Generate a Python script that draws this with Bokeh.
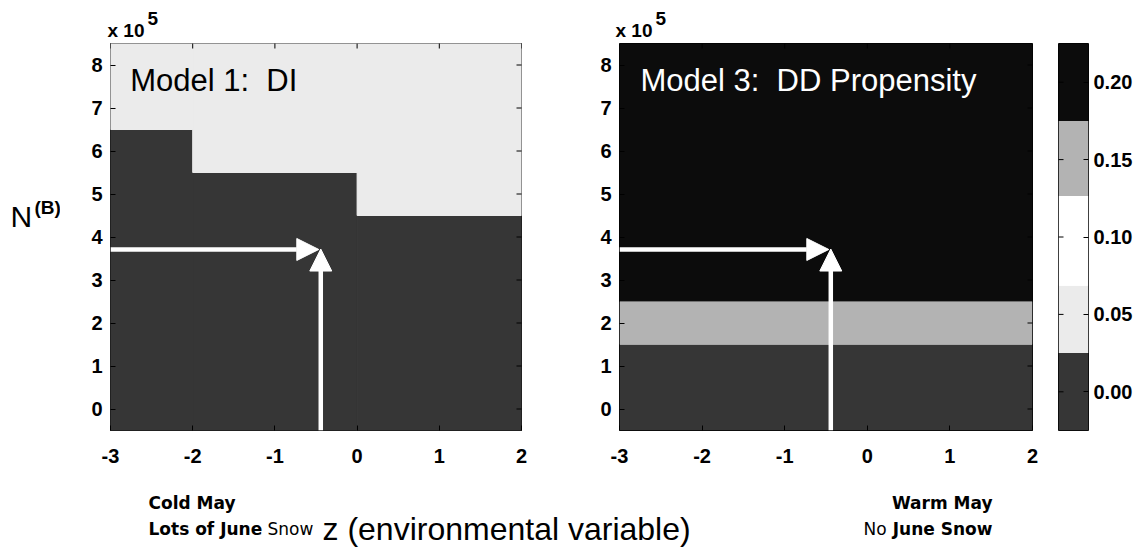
import math
from bokeh.plotting import figure
from bokeh.layouts import row, column
from bokeh.models import (Range1d, FixedTicker, Label, Arrow, NormalHead,
                          CustomJSTickFormatter, NumeralTickFormatter)
from bokeh.embed import file_html
from bokeh.resources import INLINE
from bokeh.core.properties import value

# ---------------- data ----------------
z_ticks = [-3, -2, -1, 0, 1, 2]
n_ticks = [0, 1, 2, 3, 4, 5, 6, 7, 8]          # x 10^5
z_range = [-3, 2]
n_range = [-0.5, 8.5]

# Model 1 (DI): for each z segment, cells below boundary are 0.00, above are 0.05
m1_z_left = [-3, -2, 0]
m1_z_right = [-2, 0, 2]
m1_boundary = [6.5, 5.5, 4.5]
m1_low_value = 0.00
m1_high_value = 0.05

# Model 3 (DD propensity): horizontal bands in N
m3_n_bottom = [-0.5, 1.5, 2.5]
m3_n_top = [1.5, 2.5, 8.5]
m3_values = [0.00, 0.15, 0.20]

# colour bar
cbar_edges = [-0.025, 0.025, 0.0685, 0.1265, 0.175, 0.225]
cbar_colors = ["#363636", "#ebebeb", "#ffffff", "#b3b3b3", "#0c0c0c"]
cbar_ticks = [0.00, 0.05, 0.10, 0.15, 0.20]

# arrows (z, N)
h_arrow_z = [-3, -0.466]
h_arrow_n = 3.71
v_arrow_z = -0.442
v_arrow_n = [-0.5, 3.72]

FONT = "Liberation Sans"
SMALL = value("DejaVu Sans")


def color_for(v):
    for i in range(len(cbar_colors)):
        if cbar_edges[i] <= v < cbar_edges[i + 1]:
            return cbar_colors[i]
    return cbar_colors[-1]


def style_axis(ax, ticks, standoff):
    ax.ticker = FixedTicker(ticks=ticks)
    ax.axis_line_color = None
    ax.major_tick_in = 5
    ax.major_tick_out = 0
    ax.major_tick_line_color = "black"
    ax.minor_tick_line_color = None
    ax.major_label_text_font = FONT
    ax.major_label_text_font_style = "bold"
    ax.major_label_text_font_size = "20px"
    ax.major_label_text_color = "black"
    ax.major_label_standoff = standoff


def strip(width, height, x0, y0):
    s = figure(width=width, height=height, x_range=Range1d(x0, x0 + width),
               y_range=Range1d(y0 + height, y0), x_axis_location=None, y_axis_location=None,
               output_backend="svg", toolbar_location=None, min_border=0)
    s.xgrid.visible = False
    s.ygrid.visible = False
    s.outline_line_color = None
    return s


def panel(width, bl, br):
    p = figure(width=width, height=429, x_range=Range1d(*z_range), y_range=Range1d(*n_range),
               output_backend="svg", toolbar_location=None,
               min_border_left=bl, min_border_right=br, min_border_top=2, min_border_bottom=40)
    p.xgrid.visible = False
    p.ygrid.visible = False
    p.outline_line_color = "black"
    p.outline_line_alpha = 1
    p.outline_line_width = 1
    p.border_fill_color = "white"
    style_axis(p.xaxis[0], z_ticks, 18)
    p.xaxis[0].formatter = CustomJSTickFormatter(code="return tick.toString()")
    style_axis(p.yaxis[0], n_ticks, 8)
    p.yaxis[0].formatter = CustomJSTickFormatter(code="return tick.toString()")
    return p


def mirror_ticks(p):
    # inward tick marks on the top and right frame edges (half of each dash is clipped)
    p.scatter(x=z_ticks, y=[n_range[1]] * len(z_ticks), marker="dash", size=10,
              angle=math.pi / 2, line_color="black", line_width=1)
    p.scatter(x=[z_range[1]] * len(n_ticks), y=n_ticks, marker="dash", size=10,
              line_color="black", line_width=1)


def add_arrows(p):
    p.add_layout(Arrow(end=NormalHead(size=22, fill_color="white", line_color="white", line_width=1),
                       x_start=h_arrow_z[0], y_start=h_arrow_n, x_end=h_arrow_z[1], y_end=h_arrow_n,
                       line_color="white", line_width=4.5))
    p.add_layout(Arrow(end=NormalHead(size=22, fill_color="white", line_color="white", line_width=1),
                       x_start=v_arrow_z, y_start=v_arrow_n[0], x_end=v_arrow_z, y_end=v_arrow_n[1],
                       line_color="white", line_width=4.5))


def txt(fig, x, y, s, font, size, bold=False, align="left", color="black"):
    fig.text(x=[x], y=[y], text=[s], text_font=font, text_font_size=size,
             text_font_style="bold" if bold else "normal", text_baseline="middle",
             text_align=align, text_color=color)


# ---------------- top strip (exponent labels) ----------------
top = strip(1146, 41, 0, 0)
for x0 in (107, 615):
    txt(top, x0, 30, "x 10", value(FONT), "19px", bold=True)
    txt(top, x0 + 40, 18, "5", value(FONT), "19px", bold=True)

# ---------------- left strip (y label) ----------------
left = strip(60, 429, 0, 41)
txt(left, 10, 233, "N", value(FONT), "30px")
txt(left, 34, 223, "(B)", value(FONT), "19px", bold=True)

# ---------------- panel 1 ----------------
p1 = panel(505, 50, 44)
c_low = color_for(m1_low_value)
c_high = color_for(m1_high_value)
p1.quad(left=m1_z_left, right=m1_z_right, bottom=[n_range[0]] * 3, top=m1_boundary,
        fill_color=c_low, line_color=c_low, line_width=1)
p1.quad(left=m1_z_left, right=m1_z_right, bottom=m1_boundary, top=[n_range[1]] * 3,
        fill_color=c_high, line_color=c_high, line_width=1)
mirror_ticks(p1)
add_arrows(p1)
p1.add_layout(Label(x=-2.76, y=7.64, text="Model 1:\u00a0 DI", text_font=FONT, text_font_size="31px",
                    text_color="black", text_baseline="middle"))

# ---------------- panel 2 ----------------
p2 = panel(493, 54, 26)
p2.quad(left=[z_range[0]] * 3, right=[z_range[1]] * 3, bottom=m3_n_bottom, top=m3_n_top,
        fill_color=[color_for(v) for v in m3_values], line_color=None)
mirror_ticks(p2)
add_arrows(p2)
p2.add_layout(Label(x=-2.746, y=7.64, text="Model 3:\u00a0 DD Propensity", text_font=FONT,
                    text_font_size="31px", text_color="white", text_baseline="middle"))

# ---------------- colour bar ----------------
cb = figure(width=88, height=429, x_range=Range1d(0, 1),
            y_range=Range1d(cbar_edges[0], cbar_edges[-1]),
            x_axis_location=None, y_axis_location="right",
            output_backend="svg", toolbar_location=None,
            min_border_left=0, min_border_right=58, min_border_top=1, min_border_bottom=39)
cb.xgrid.visible = False
cb.ygrid.visible = False
cb.outline_line_color = "black"
cb.outline_line_alpha = 1
cb.quad(left=0, right=1, bottom=cbar_edges[:-1], top=cbar_edges[1:],
        fill_color=cbar_colors, line_color=None)
cb.scatter(x=[0] * len(cbar_ticks), y=cbar_ticks, marker="dash", size=10,
           line_color="black", line_width=1)
style_axis(cb.yaxis[0], cbar_ticks, 5)
cb.yaxis[0].formatter = NumeralTickFormatter(format="0.00")

# ---------------- bottom annotation strip ----------------
bt = strip(1146, 78, 0, 470)
txt(bt, 148, 502, "Cold May", SMALL, "17px", bold=True)
txt(bt, 148, 528, "Lots of June", SMALL, "17px", bold=True)
txt(bt, 267, 528, "Snow", SMALL, "17px")
txt(bt, 322, 528, "z (environmental variable)", value(FONT), "32px")
txt(bt, 992, 502, "Warm May", SMALL, "17px", bold=True, align="right")
txt(bt, 863, 528, "No", SMALL, "17px")
txt(bt, 992, 528, "June Snow", SMALL, "17px", bold=True, align="right")

layout = column(top, row(left, p1, p2, cb), bt)
open("out.html", "w").write(file_html(layout, INLINE))
